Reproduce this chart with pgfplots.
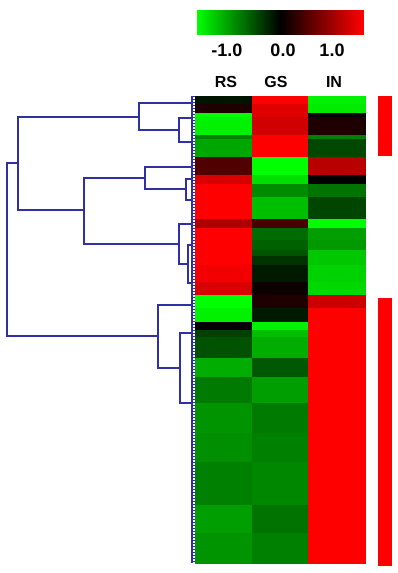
\documentclass[border=0pt]{standalone}
\usepackage{pgfplots}
\pgfplotsset{compat=1.18}
\usepackage{pgfplotstable}
\usepackage{fontspec}
\setmainfont{Liberation Sans}
\definecolor{dend}{RGB}{48,48,165}
\pgfplotstableread{
x y c
195 96 -0.08
252 96 1.0
308 96 -0.95
365 96 0
195 104 0.12
252 104 0.88
308 104 -0.92
365 104 0
195 113 -1.0
252 113 0.88
308 113 0.0
365 113 0
195 117 -0.95
252 117 0.82
308 117 0.12
365 117 0
195 135 -0.5
252 135 1.0
308 135 -0.5
365 135 0
195 139 -0.65
252 139 1.0
308 139 -0.28
365 139 0
195 157 0.32
252 157 -1.0
308 157 0.72
365 157 0
195 175 0.85
252 175 -0.88
308 175 0.0
365 175 0
195 184 1.0
252 184 -0.55
308 184 -0.45
365 184 0
195 197 1.0
252 197 -0.75
308 197 -0.27
365 197 0
195 219 0.68
252 219 0.28
308 219 -1.0
365 219 0
195 228 1.0
252 228 -0.42
308 228 -0.62
365 228 0
195 240 1.0
252 240 -0.38
308 240 -0.6
365 240 0
195 250 1.0
252 250 -0.33
308 250 -0.78
365 250 0
195 256 1.0
252 256 -0.2
308 256 -0.78
365 256 0
195 265 0.95
252 265 -0.1
308 265 -0.82
365 265 0
195 282 0.85
252 282 0.05
308 282 -0.85
365 282 0
195 295 -1.0
252 295 0.12
308 295 0.8
365 295 0
195 308 -0.95
252 308 -0.1
308 308 1.0
365 308 0
195 322 0.0
252 322 -0.95
308 322 1.0
365 322 0
195 330 -0.25
252 330 -0.75
308 330 1.0
365 330 0
195 337 -0.32
252 337 -0.68
308 337 1.0
365 337 0
195 358 -0.68
252 358 -0.35
308 358 1.0
365 358 0
195 377 -0.48
252 377 -0.62
308 377 1.0
365 377 0
195 403 -0.58
252 403 -0.48
308 403 1.0
365 403 0
195 433 -0.56
252 433 -0.5
308 433 1.0
365 433 0
195 462 -0.5
252 462 -0.53
308 462 1.0
365 462 0
195 505 -0.62
252 505 -0.45
308 505 1.0
365 505 0
195 533 -0.58
252 533 -0.5
308 533 1.0
365 533 0
195 563 0
252 563 0
308 563 0
365 563 0
}\heat
\pgfplotstableread{
x y c
197 10 -1
280 10 0
363 10 1
197 34 -1
280 34 0
363 34 1
}\cbar
\begin{document}
\begin{tikzpicture}
\begin{axis}[
  width=397pt, height=573pt, scale only axis,
  xmin=0, xmax=397, ymin=0, ymax=573, y dir=reverse,
  hide axis, clip=false,
  colormap={gbr}{rgb255=(0,255,0) rgb255=(0,0,0) rgb255=(255,0,0)},
  point meta min=-1, point meta max=1,
]
\path (axis cs:0,0) rectangle (axis cs:397,573);
% heatmap
\addplot[surf, shader=flat corner, mesh/cols=4, point meta=explicit] table[x=x,y=y,meta=c] {\heat};
% colour bar
\addplot[surf, shader=interp, mesh/cols=3, point meta=explicit] table[x=x,y=y,meta=c] {\cbar};
% dendrogram
\addplot[dend, line width=1.4pt] coordinates {(18,163) (7,163) (7,336) (158,336)};
\addplot[dend, line width=1.4pt] coordinates {(139,117) (18,117) (18,210) (84,210)};
\addplot[dend, line width=1.4pt] coordinates {(192,103) (139,103) (139,130) (179,130)};
\addplot[dend, line width=1.4pt] coordinates {(192,118) (179,118) (179,142) (192,142)};
\addplot[dend, line width=1.4pt] coordinates {(145,178) (84,178) (84,244) (179,244)};
\addplot[dend, line width=1.4pt] coordinates {(192,167) (145,167) (145,189) (186,189)};
\addplot[dend, line width=1.4pt] coordinates {(192,179) (186,179) (186,200) (192,200)};
\addplot[dend, line width=1.4pt] coordinates {(192,224) (179,224) (179,264) (188,264)};
\addplot[dend, line width=1.4pt] coordinates {(192,245) (188,245) (188,283) (192,283)};
\addplot[dend, line width=1.4pt] coordinates {(192,305) (158,305) (158,368) (180,368)};
\addplot[dend, line width=1.4pt] coordinates {(192,333) (180,333) (180,403) (192,403)};
% leaf comb
\addplot[dend, line width=1.3pt] coordinates {(192,96) (192,563)};
\addplot[dend, line width=3.2pt, dash pattern=on 1.2pt off 1.8pt] coordinates {(193.5,96) (193.5,563)};
% red group bars
\addplot[fill=red, draw=none] coordinates {(378,96) (392,96) (392,156) (378,156)} -- cycle;
\addplot[fill=red, draw=none] coordinates {(378,298) (392,298) (392,566) (378,566)} -- cycle;
% labels
\node[font=\bfseries\fontsize{18}{18}\selectfont] at (axis cs:227,50) {-1.0};
\node[font=\bfseries\fontsize{18}{18}\selectfont] at (axis cs:283,50) {0.0};
\node[font=\bfseries\fontsize{18}{18}\selectfont] at (axis cs:332,50) {1.0};
\node[font=\bfseries\fontsize{16}{16}\selectfont] at (axis cs:226,81.5) {RS};
\node[font=\bfseries\fontsize{16}{16}\selectfont] at (axis cs:276,81.5) {GS};
\node[font=\bfseries\fontsize{16}{16}\selectfont] at (axis cs:334,81.5) {IN};
\end{axis}
\end{tikzpicture}
\end{document}
